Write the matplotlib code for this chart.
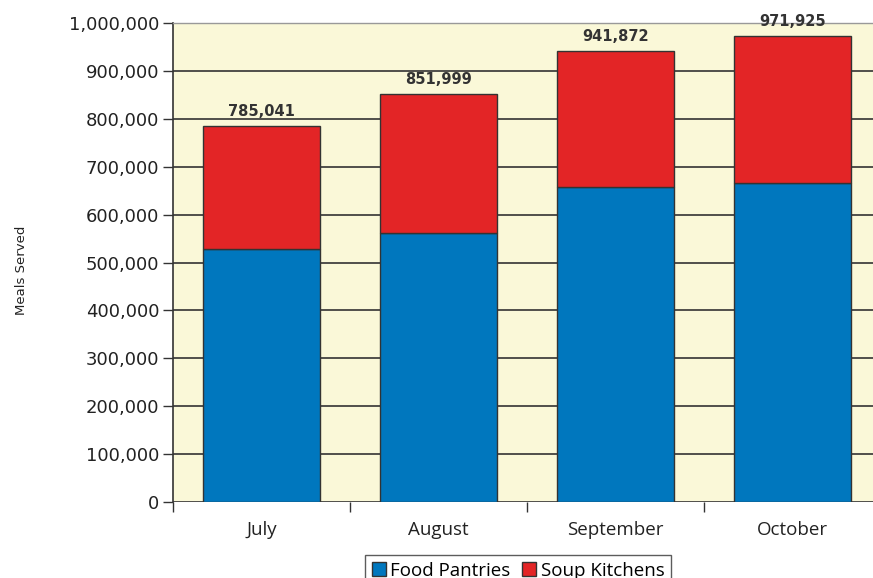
import numpy as np
from matplotlib import pyplot as plt
from matplotlib.ticker import FuncFormatter

# Meals served by month
months = ['July', 'August', 'September', 'October']
totals = [785041, 851999, 941872, 971925]
food_pantries = [528000, 561000, 658000, 667000]
soup_kitchens = [t - f for t, f in zip(totals, food_pantries)]

fig = plt.figure(figsize=(8.73, 5.78), dpi=100)
ax = fig.add_axes([173 / 873, 76 / 578, 708 / 873, 479 / 578])
ax.set_facecolor('#faf8d8')

x = np.arange(len(months))
w = 0.66
ax.bar(x, food_pantries, w, color='#0077be', edgecolor='#333333', linewidth=1,
       label='Food Pantries', zorder=3)
ax.bar(x, soup_kitchens, w, bottom=food_pantries, color='#e32526',
       edgecolor='#333333', linewidth=1, label='Soup Kitchens', zorder=3)

for xi, t in zip(x, totals):
    ax.text(xi, t + 15000, f'{t:,}', ha='center', va='bottom',
            fontsize=10.5, fontweight='bold', color='#333333')

ax.set_xlim(-0.5, len(months) - 0.5)
ax.set_ylim(0, 1000000)
ax.set_yticks(np.arange(0, 1000001, 100000))
ax.yaxis.set_major_formatter(FuncFormatter(lambda v, p: f'{int(v):,}'))
ax.yaxis.grid(True, color='#333333', linewidth=1.2, zorder=0)
ax.set_axisbelow(True)

ax.set_xticks(x)
ax.set_xticklabels(months, fontsize=13.5, color='#222222', family='Open Sans')
ax.set_xticks(np.arange(-0.5, len(months)), minor=True)
ax.tick_params(axis='x', which='major', length=0, pad=14)
ax.tick_params(axis='x', which='minor', length=7, width=1, color='#333333')
ax.tick_params(axis='y', length=7, width=1, color='#333333', labelsize=13,
               labelcolor='#222222', pad=3)

for s in ['right', 'bottom']:
    ax.spines[s].set_visible(False)
ax.spines['left'].set_color('#333333')
ax.spines['left'].set_linewidth(1.2)
ax.spines['top'].set_color('#999999')
ax.spines['top'].set_linewidth(1)

fig.text(22 / 873, 1 - 270 / 578, 'Meals Served', rotation=90, ha='center',
         va='center', fontsize=9.5, color='#222222')

leg = fig.legend(loc='upper center', bbox_to_anchor=(518 / 873, 1 - 555 / 578),
                 ncol=2, frameon=True, fancybox=False,
                 handlelength=0.75, handleheight=0.75, handletextpad=0.25,
                 columnspacing=0.6, borderpad=0.35, borderaxespad=0,
                 prop={'family': 'Open Sans', 'size': 13.5})
leg.get_frame().set_edgecolor('#333333')
leg.get_frame().set_linewidth(1)

plt.savefig('out.png')
